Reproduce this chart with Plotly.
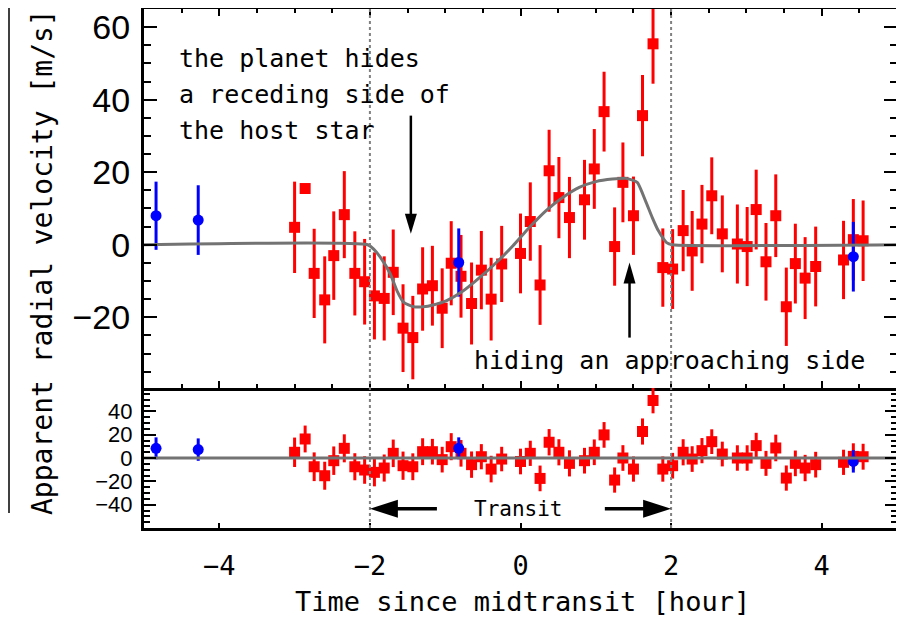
import plotly.graph_objects as go

# ---------------- data ----------------
t_red = [-3.00, -2.86, -2.74, -2.60, -2.48, -2.34, -2.20, -2.07, -1.94, -1.81,
         -1.69, -1.56, -1.43, -1.30, -1.17, -1.04, -0.92, -0.79, -0.65, -0.52,
         -0.39, -0.25, 0.00, 0.13, 0.26, 0.38, 0.51, 0.65, 0.85, 0.98,
         1.11, 1.25, 1.36, 1.50, 1.62, 1.76, 1.89, 2.02, 2.16, 2.28,
         2.41, 2.54, 2.68, 2.88, 3.01, 3.13, 3.26, 3.39, 3.53, 3.65,
         3.78, 3.92, 4.29, 4.42, 4.55]
rv_red = [4.8, 15.5, -7.9, -15.2, -3.0, 8.3, -7.9, -10.2, -14.1, -14.8,
          -7.6, -23.0, -25.6, -12.2, -11.3, -17.5, -5.1, -8.7, -16.2, -7.0,
          -15.0, -5.3, -2.4, 6.4, -11.1, 20.4, 13.0, 7.5, 12.4, 20.9,
          36.7, -0.5, 17.2, 8.0, 35.6, 55.4, -6.3, -6.7, 3.9, -1.7,
          5.7, 13.5, 3.0, 0.2, -0.5, 9.7, -4.7, 8.0, -17.1, -5.2,
          -9.2, -6.0, -4.2, 1.4, 1.1]
err_red = [12.6, 11.5, 12.3, 12.0, 12.2, 12.0, 11.6, 11.8, 12.0, 11.6,
           11.8, 12.1, 11.5, 11.5, 11.0, 11.0, 11.6, 11.4, 11.3, 10.8,
           11.4, 10.5, 11.0, 10.8, 11.0, 11.3, 11.2, 11.2, 11.0, 11.0,
           11.0, 10.8, 11.0, 10.8, 11.2, 11.0, 10.8, 11.0, 11.2, 11.0,
           10.8, 10.6, 10.6, 10.9, 10.9, 11.0, 10.7, 11.4, 10.8, 11.0,
           11.3, 11.0, 10.8, 11.2, 11.1]
# error bar not drawn in the upper panel for these points
err_hidden_top = [1]
res_red = [4.9, 16.3, -7.5, -15.2, -2.3, 8.3, -7.5, -10.3, -12.3, -8.6,
           4.0, -6.6, -7.5, 5.4, 5.4, -1.4, 9.7, 4.0, -5.7, 1.1,
           -9.5, -0.9, -3.0, 4.0, -17.5, 13.5, 4.9, -4.6, -2.3, 4.9,
           19.8, -18.9, 0.0, -9.5, 22.7, 49.3, -9.5, -6.6, 4.9, -0.9,
           6.3, 14.0, 3.4, 0.0, 0.0, 10.6, -4.6, 8.6, -17.2, -4.6,
           -8.6, -5.7, -3.7, 1.4, 1.1]

t_blue = [-4.84, -4.28, -0.82, 4.42]
rv_blue = [8.0, 6.8, -4.9, -3.3]
err_blue = [9.4, 9.6, 9.4, 9.6]
res_blue = [8.3, 7.2, 8.3, -2.9]

model_t = [-5.0, -2.03, -1.95, -1.86, -1.73, -1.64, -1.55, -1.42, -1.29, -1.16,
           -0.98, -0.76, -0.54, -0.32, -0.10, 0.12, 0.34, 0.56, 0.78, 1.00,
           1.22, 1.40, 1.55, 1.66, 1.75, 1.83, 1.94, 2.02, 5.0]
model_v = [0.0, 0.0, -1.2, -3.5, -8.0, -12.7, -15.9, -17.1, -17.1, -16.6,
           -15.4, -12.7, -9.0, -4.9, -0.3, 4.8, 9.4, 13.0, 15.8, 17.4,
           18.1, 18.3, 17.2, 12.1, 7.5, 3.9, 0.6, 0.0, 0.0]

resid_line_t = [-5.0, 5.0]
resid_line_v = [0.0, 0.0]

transit_edges = [-2.0, 2.0]

top_ticks = [-20, 0, 20, 40, 60]
bot_ticks = [-40, -20, 0, 20, 40]
x_ticks = [-4, -2, 0, 2, 4]

# ---------------- styling ----------------
MONO = "DejaVu Sans Mono"
SANS = "Liberation Sans"
RED = "#ff0000"
BLUE = "#0000ff"
GRAY = "#737373"

# the page body adds an 8 px offset; the figure is sized so the plot area
# lands at the reference position (plot area 753 x 519 px)
W, H = 896, 611
ML, MR, MT, MB = 136, 7, 1, 91
PW, PH = W - ML - MR, H - MT - MB

err_red_top = [0.0 if i in err_hidden_top else e for i, e in enumerate(err_red)]

fig = go.Figure()

# upper panel
fig.add_trace(go.Scatter(
    x=t_red, y=rv_red, mode="markers", xaxis="x", yaxis="y",
    marker=dict(symbol="square", size=11, color=RED),
    error_y=dict(type="data", array=err_red_top, visible=True, thickness=3, width=0, color=RED),
    showlegend=False))
fig.add_trace(go.Scatter(
    x=t_blue, y=rv_blue, mode="markers", xaxis="x", yaxis="y",
    marker=dict(symbol="circle", size=11, color=BLUE),
    error_y=dict(type="data", array=err_blue, visible=True, thickness=3, width=0, color=BLUE),
    showlegend=False))
fig.add_trace(go.Scatter(
    x=model_t, y=model_v, mode="lines", xaxis="x", yaxis="y",
    line=dict(color=GRAY, width=3, shape="spline", smoothing=0.5), showlegend=False))

# lower panel
fig.add_trace(go.Scatter(
    x=t_red, y=res_red, mode="markers", xaxis="x2", yaxis="y2",
    marker=dict(symbol="square", size=11, color=RED),
    error_y=dict(type="data", array=err_red, visible=True, thickness=3, width=0, color=RED),
    showlegend=False))
fig.add_trace(go.Scatter(
    x=t_blue, y=res_blue, mode="markers", xaxis="x2", yaxis="y2",
    marker=dict(symbol="circle", size=11, color=BLUE),
    error_y=dict(type="data", array=err_blue, visible=True, thickness=3, width=0, color=BLUE),
    showlegend=False))
fig.add_trace(go.Scatter(
    x=resid_line_t, y=resid_line_v, mode="lines", xaxis="x2", yaxis="y2",
    line=dict(color=GRAY, width=3), showlegend=False))

split = 140 / PH

axis_common = dict(showline=True, linecolor="black", linewidth=3, showgrid=False,
                   zeroline=False, ticks="inside", tickcolor="black", tickwidth=2,
                   automargin=False, ticklabeloverflow="allow")

fig.update_layout(
    width=W, height=H,
    margin=dict(l=ML, r=MR, t=MT, b=MB, autoexpand=False),
    paper_bgcolor="white", plot_bgcolor="white",
    xaxis=dict(domain=[0, 1], anchor="y", range=[-5, 5], tickvals=x_ticks,
               showticklabels=False, ticklen=7, mirror="allticks",
               minor=dict(dtick=0.5, tick0=0, ticklen=4, tickwidth=2, ticks="inside",
                          tickcolor="black", showgrid=False),
               **axis_common),
    yaxis=dict(domain=[split, 1], anchor="x", range=[-39.5, 65], tickvals=top_ticks,
               ticklen=13, mirror="allticks",
               tickfont=dict(family=SANS, size=34, color="black"),
               ticklabelstandoff=4,
               minor=dict(dtick=5, tick0=0, ticklen=7, tickwidth=2, ticks="inside",
                          tickcolor="black", showgrid=False),
               **axis_common),
    xaxis2=dict(domain=[0, 1], anchor="y2", range=[-5, 5], tickvals=x_ticks,
                ticklen=5, mirror=False, matches="x",
                tickfont=dict(family=MONO, size=27, color="black"),
                ticklabelstandoff=12,
                **axis_common),
    yaxis2=dict(domain=[0, split], anchor="x2", range=[-60, 60], tickvals=bot_ticks,
                ticklen=12, mirror="allticks",
                tickfont=dict(family=SANS, size=22, color="black"),
                ticklabelstandoff=4,
                minor=dict(dtick=5, tick0=0, ticklen=6, tickwidth=2, ticks="inside",
                           tickcolor="black", showgrid=False),
                **axis_common),
)

shapes = []
# transit boundaries spanning both panels
for e in transit_edges:
    shapes.append(dict(type="line", xref="x", yref="paper", x0=e, x1=e, y0=0, y1=1,
                       line=dict(color="#808080", width=2, dash="dot"), layer="above"))

# arrow: planet hides receding side (pointing down)
ax_d, tail_d, tip_d = -1.456, 35.6, 3.0
shapes.append(dict(type="line", xref="x", yref="y", x0=ax_d, x1=ax_d, y0=tail_d, y1=tip_d + 3,
                   line=dict(color="black", width=2.5)))
shapes.append(dict(type="path", xref="x", yref="y", xsizemode="pixel", ysizemode="pixel",
                   xanchor=ax_d, yanchor=tip_d, path="M0,0 L-6,20 L6,20 Z",
                   fillcolor="black", line=dict(width=0)))
# arrow: hiding an approaching side (pointing up)
ax_u, tail_u, tip_u = 1.448, -25.6, -4.9
shapes.append(dict(type="line", xref="x", yref="y", x0=ax_u, x1=ax_u, y0=tail_u, y1=tip_u - 3,
                   line=dict(color="black", width=2.5)))
shapes.append(dict(type="path", xref="x", yref="y", xsizemode="pixel", ysizemode="pixel",
                   xanchor=ax_u, yanchor=tip_u, path="M0,0 L-6,-21 L6,-21 Z",
                   fillcolor="black", line=dict(width=0)))
# transit arrows in lower panel
ty = -43.5
shapes.append(dict(type="line", xref="x2", yref="y2", x0=-1.11, x1=-1.8, y0=ty, y1=ty,
                   line=dict(color="black", width=3.5)))
shapes.append(dict(type="path", xref="x2", yref="y2", xsizemode="pixel", ysizemode="pixel",
                   xanchor=-2.0, yanchor=ty, path="M0,0 L28,9 L28,-9 Z",
                   fillcolor="black", line=dict(width=0)))
shapes.append(dict(type="line", xref="x2", yref="y2", x0=1.12, x1=1.8, y0=ty, y1=ty,
                   line=dict(color="black", width=3.5)))
shapes.append(dict(type="path", xref="x2", yref="y2", xsizemode="pixel", ysizemode="pixel",
                   xanchor=2.0, yanchor=ty, path="M0,0 L-28,9 L-28,-9 Z",
                   fillcolor="black", line=dict(width=0)))
# remnant frame line at the far left edge
shapes.append(dict(type="line", xref="paper", yref="paper", x0=(1 - ML) / PW, x1=(1 - ML) / PW,
                   y0=(H - MB - 505) / PH, y1=(H - MB) / PH, line=dict(color="black", width=1.5)))
fig.update_layout(shapes=shapes)


def py(screen_y):
    """paper y for a screen-pixel y of the reference"""
    return (H - MB - (screen_y - 8)) / PH


def px(screen_x):
    return (screen_x - 8 - ML) / PW


ann = []
for txt, yv in [("the planet hides", 51.3), ("a receding side of", 41.4), ("the host star", 31.4)]:
    ann.append(dict(text=txt, xref="x", yref="y", x=-4.56, y=yv, xanchor="left",
                    yanchor="middle", showarrow=False,
                    font=dict(family=MONO, size=25, color="black")))
ann.append(dict(text="hiding an approaching side", xref="x", yref="y", x=-0.64, y=-32.0,
                xanchor="left", yanchor="middle", showarrow=False,
                font=dict(family=MONO, size=25, color="black")))
ann.append(dict(text="Transit", xref="x2", yref="y2", x=-0.03, y=ty, xanchor="center",
                yanchor="middle", showarrow=False,
                font=dict(family=MONO, size=21, color="black")))
ann.append(dict(text="Time since midtransit [hour]", xref="paper", yref="paper",
                x=px(522), y=py(601), xanchor="center", yanchor="middle",
                showarrow=False, font=dict(family=MONO, size=27, color="black")))
ann.append(dict(text="Apparent radial velocity [m/s]", xref="paper", yref="paper",
                x=px(42), y=py(262), xanchor="center", yanchor="middle",
                textangle=-90, showarrow=False, font=dict(family=MONO, size=28, color="black")))
fig.update_layout(annotations=ann)

fig.write_html("out.html")
